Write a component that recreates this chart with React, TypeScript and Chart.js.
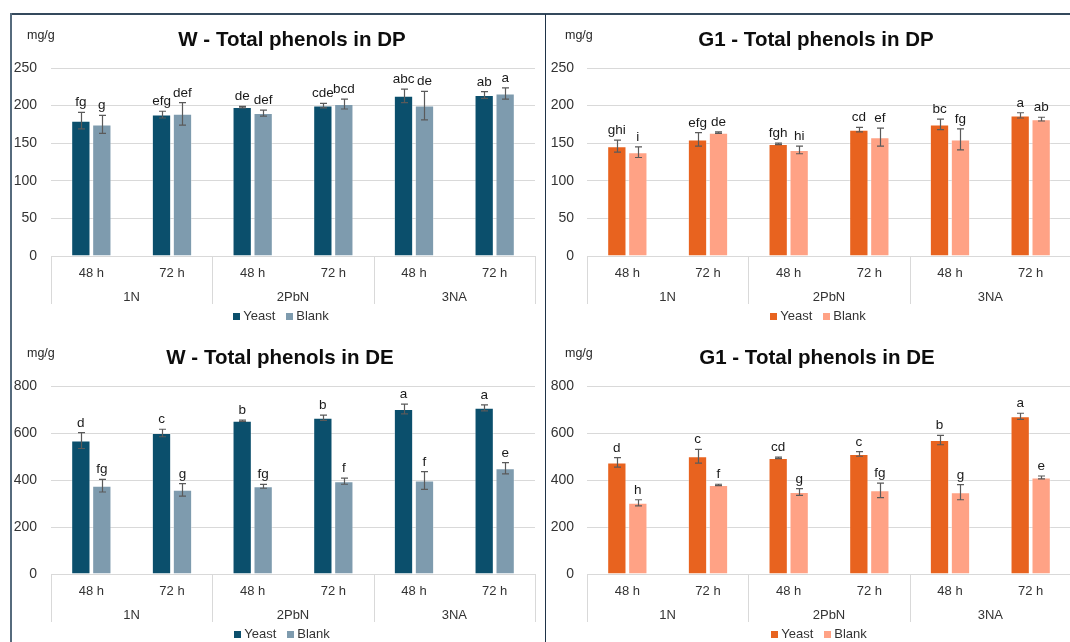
import { useEffect, useRef } from "react";
import { Chart, registerables } from "chart.js";

Chart.register(...registerables);

const FONT = "'Liberation Sans', Arial, Helvetica, sans-serif";

// Shared category axis: sampling time nested inside treatment group
const hourLabels = ["48 h", "72 h", "48 h", "72 h", "48 h", "72 h"];
const groupLabels = ["1N", "2PbN", "3NA"];
const seriesNames = ["Yeast", "Blank"];

// W – total phenols in DP (mg/g), means, SD and significance letters
const wDpYeast = [180, 188, 198, 200, 213, 214];
const wDpYeastSd = [11, 4.5, 1, 3, 9, 4.5];
const wDpBlank = [175, 189, 190, 202, 200, 216];
const wDpBlankSd = [12, 15, 4, 6.5, 19, 7.5];
const wDpYeastLetters = ["fg", "efg", "de", "cde", "abc", "ab"];
const wDpBlankLetters = ["g", "def", "def", "bcd", "de", "a"];

// G1 – total phenols in DP (mg/g)
const g1DpYeast = [146, 155, 149, 168, 175, 187];
const g1DpYeastSd = [8, 9, 1, 3, 7, 3.5];
const g1DpBlank = [138, 164, 141, 158, 155, 182];
const g1DpBlankSd = [7, 1, 5, 12, 14, 2.5];
const g1DpYeastLetters = ["ghi", "efg", "fgh", "cd", "bc", "a"];
const g1DpBlankLetters = ["i", "de", "hi", "ef", "fg", "ab"];

// W – total phenols in DE (mg/g)
const wDeYeast = [568, 600, 652, 665, 702, 707];
const wDeYeastSd = [34, 16, 3, 11, 21, 13];
const wDeBlank = [376, 358, 373, 395, 398, 450];
const wDeBlankSd = [27, 27, 8, 13, 38, 24];
const wDeYeastLetters = ["d", "c", "b", "b", "a", "a"];
const wDeBlankLetters = ["fg", "g", "fg", "f", "f", "e"];

// G1 – total phenols in DE (mg/g)
const g1DeYeast = [475, 501, 494, 511, 570, 671];
const g1DeYeastSd = [20, 29, 3, 10, 20, 13];
const g1DeBlank = [303, 379, 349, 356, 348, 411];
const g1DeBlankSd = [13, 3, 14, 31, 32, 6];
const g1DeYeastLetters = ["d", "c", "cd", "c", "b", "a"];
const g1DeBlankLetters = ["h", "f", "g", "fg", "g", "e"];

const W_COLORS = ["#0b4f6c", "#7e9bae"];
const G1_COLORS = ["#e8631f", "#ffa285"];

type PanelProps = {
  title: string;
  yMax: number;
  yStep: number;
  colors: string[];
  values: number[][];
  sds: number[][];
  letters: string[][];
  left: number;
  top: number;
  width: number;
  height: number;
  plotLeft: number;
  plotRight: number;
  tickPad: number;
  unitX: number;
  titleX: number;
  legendX: number;
};

const PLOT_TOP = 54;
const PLOT_BOTTOM = 242;

function Panel(p: PanelProps) {
  const ref = useRef<HTMLCanvasElement | null>(null);

  useEffect(() => {
    if (!ref.current) return;

    const decor = {
      id: "panelDecor",
      afterDatasetsDraw(chart: any) {
        const ctx = chart.ctx as CanvasRenderingContext2D;
        const y = chart.scales.y;
        ctx.save();
        chart.data.datasets.forEach((ds: any, di: number) => {
          const meta = chart.getDatasetMeta(di);
          meta.data.forEach((bar: any, i: number) => {
            const v = ds.data[i] as number;
            const sd = p.sds[di][i];
            const yHi = y.getPixelForValue(v + sd);
            const yLo = y.getPixelForValue(v - sd);
            const bx = Math.round(bar.x) + 0.5;
            ctx.strokeStyle = "#5a5a5a";
            ctx.lineWidth = 1.2;
            ctx.beginPath();
            ctx.moveTo(bx, yHi);
            ctx.lineTo(bx, yLo);
            ctx.moveTo(bx - 3.5, yHi);
            ctx.lineTo(bx + 3.5, yHi);
            ctx.moveTo(bx - 3.5, yLo);
            ctx.lineTo(bx + 3.5, yLo);
            ctx.stroke();

            ctx.fillStyle = "#1a1a1a";
            ctx.font = `13.5px ${FONT}`;
            ctx.textAlign = "center";
            ctx.textBaseline = "alphabetic";
            ctx.fillText(p.letters[di][i], bar.x, yHi - 6);
          });
        });
        ctx.restore();
      },
      afterDraw(chart: any) {
        const ctx = chart.ctx as CanvasRenderingContext2D;
        const { left, right, bottom } = chart.chartArea;
        const x = chart.scales.x;
        ctx.save();

        // unit and title
        ctx.fillStyle = "#262626";
        ctx.font = `12.5px ${FONT}`;
        ctx.textAlign = "left";
        ctx.textBaseline = "middle";
        ctx.fillText("mg/g", p.unitX, 22);

        ctx.fillStyle = "#0d0d0d";
        ctx.font = `bold 20.5px ${FONT}`;
        ctx.textAlign = "center";
        ctx.textBaseline = "alphabetic";
        ctx.fillText(p.title, p.titleX, 32);

        // two-level category axis
        ctx.strokeStyle = "#d9d9d9";
        ctx.lineWidth = 1;
        const groupW = (right - left) / groupLabels.length;
        ctx.beginPath();
        for (let k = 0; k <= groupLabels.length; k++) {
          const gx = Math.round(left + k * groupW) + 0.5;
          ctx.moveTo(gx, bottom);
          ctx.lineTo(gx, bottom + 48);
        }
        ctx.stroke();

        ctx.fillStyle = "#333333";
        ctx.font = `13px ${FONT}`;
        ctx.textAlign = "center";
        ctx.textBaseline = "middle";
        hourLabels.forEach((lab, i) => {
          ctx.fillText(lab, x.getPixelForValue(i), bottom + 17);
        });
        groupLabels.forEach((lab, k) => {
          ctx.fillText(lab, left + (k + 0.5) * groupW, bottom + 41);
        });

        // legend
        ctx.font = `13px ${FONT}`;
        const sw = 7;
        const gapText = 3;
        const gapItem = 11;
        const widths = seriesNames.map((n) => sw + gapText + ctx.measureText(n).width);
        const total = widths.reduce((a, b) => a + b, 0) + gapItem * (widths.length - 1);
        let lx = p.legendX - total / 2;
        const ly = bottom + 60;
        seriesNames.forEach((n, i) => {
          ctx.fillStyle = p.colors[i];
          ctx.fillRect(Math.round(lx), Math.round(ly - sw / 2), sw, sw);
          ctx.fillStyle = "#333333";
          ctx.textAlign = "left";
          ctx.fillText(n, lx + sw + gapText, ly);
          lx += widths[i] + gapItem;
        });
        ctx.restore();
      },
    };

    const chart = new Chart(ref.current, {
      type: "bar",
      data: {
        labels: hourLabels,
        datasets: seriesNames.map((name, i) => ({
          label: name,
          data: p.values[i],
          backgroundColor: p.colors[i],
          borderColor: "rgba(255,255,255,0.35)",
          borderWidth: 1,
          categoryPercentage: 0.52,
          barPercentage: 0.92,
        })),
      },
      options: {
        animation: false,
        responsive: false,
        maintainAspectRatio: false,
        events: [],
        layout: {
          padding: { top: PLOT_TOP, left: 0, right: p.width - p.plotRight, bottom: 0 },
        },
        plugins: {
          legend: { display: false },
          title: { display: false },
          tooltip: { enabled: false },
        },
        scales: {
          x: {
            grid: { display: false },
            ticks: { display: false },
            border: { color: "#d9d9d9", width: 1 },
            afterFit: (s: any) => {
              s.height = p.height - PLOT_BOTTOM;
            },
          },
          y: {
            min: 0,
            max: p.yMax,
            ticks: {
              stepSize: p.yStep,
              padding: p.tickPad,
              color: "#333333",
              font: { family: FONT, size: 14 },
            },
            grid: { color: "#d9d9d9", drawTicks: false, lineWidth: 1 },
            border: { display: false },
            afterFit: (s: any) => {
              s.width = p.plotLeft;
            },
          },
        },
      },
      plugins: [decor],
    });
    return () => chart.destroy();
  }, []);

  return (
    <canvas
      ref={ref}
      width={p.width}
      height={p.height}
      style={{ position: "absolute", left: p.left, top: p.top, width: p.width, height: p.height }}
    />
  );
}

export default function App() {
  return (
    <div
      style={{
        position: "fixed",
        left: 0,
        top: 0,
        width: 1070,
        height: 642,
        overflow: "hidden",
        background: "#ffffff",
      }}
    >
      <Panel
        title="W - Total phenols in DP"
        yMax={250}
        yStep={50}
        colors={W_COLORS}
        values={[wDpYeast, wDpBlank]}
        sds={[wDpYeastSd, wDpBlankSd]}
        letters={[wDpYeastLetters, wDpBlankLetters]}
        left={11}
        top={14}
        width={534}
        height={318}
        plotLeft={40}
        plotRight={524}
        tickPad={14}
        unitX={16}
        titleX={281}
        legendX={270}
      />
      <Panel
        title="G1 - Total phenols in DP"
        yMax={250}
        yStep={50}
        colors={G1_COLORS}
        values={[g1DpYeast, g1DpBlank]}
        sds={[g1DpYeastSd, g1DpBlankSd]}
        letters={[g1DpYeastLetters, g1DpBlankLetters]}
        left={546}
        top={14}
        width={530}
        height={318}
        plotLeft={41}
        plotRight={525}
        tickPad={13}
        unitX={19}
        titleX={270}
        legendX={272}
      />
      <Panel
        title="W - Total phenols in DE"
        yMax={800}
        yStep={200}
        colors={W_COLORS}
        values={[wDeYeast, wDeBlank]}
        sds={[wDeYeastSd, wDeBlankSd]}
        letters={[wDeYeastLetters, wDeBlankLetters]}
        left={11}
        top={332}
        width={534}
        height={310}
        plotLeft={40}
        plotRight={524}
        tickPad={14}
        unitX={16}
        titleX={269}
        legendX={271}
      />
      <Panel
        title="G1 - Total phenols in DE"
        yMax={800}
        yStep={200}
        colors={G1_COLORS}
        values={[g1DeYeast, g1DeBlank]}
        sds={[g1DeYeastSd, g1DeBlankSd]}
        letters={[g1DeYeastLetters, g1DeBlankLetters]}
        left={546}
        top={332}
        width={530}
        height={310}
        plotLeft={41}
        plotRight={525}
        tickPad={13}
        unitX={19}
        titleX={271}
        legendX={273}
      />
      {/* frame lines */}
      <div style={{ position: "absolute", left: 11, top: 13, width: 1059, height: 2, background: "#34495c" }} />
      <div style={{ position: "absolute", left: 10, top: 13, width: 2, height: 629, background: "#566b7d" }} />
      <div style={{ position: "absolute", left: 545, top: 14, width: 1, height: 628, background: "#1f3348" }} />
    </div>
  );
}
